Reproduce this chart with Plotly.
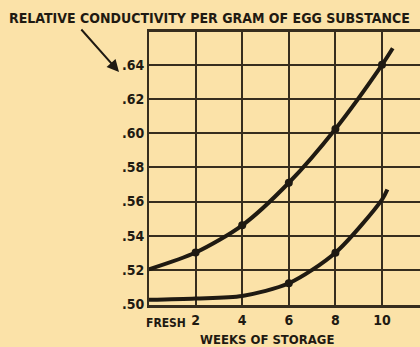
import plotly.graph_objects as go

# Conductivity curves vs. weeks of storage
upper_weeks = [0, 2, 4, 6, 8, 10, 10.46]
upper_cond = [0.5204, 0.5302, 0.5461, 0.571, 0.6025, 0.640, 0.6497]
lower_weeks = [0, 2, 4, 6, 8, 10, 10.23]
lower_cond = [0.5025, 0.5033, 0.5048, 0.5122, 0.5301, 0.5612, 0.5671]

# Plotted points (dots) on each curve
upper_dot_weeks = [2, 4, 6, 8, 10]
upper_dot_cond = [0.5302, 0.5461, 0.571, 0.6025, 0.640]
lower_dot_weeks = [6, 8]
lower_dot_cond = [0.5122, 0.5301]

x_ticks = [2, 4, 6, 8, 10]
x_ticktext = ["2", "4", "6", "8", "10"]
y_ticks = [0.50, 0.52, 0.54, 0.56, 0.58, 0.60, 0.62, 0.64]
y_ticktext = [".50", ".52", ".54", ".56", ".58", ".60", ".62", ".64"]

BG = "#fbe2a8"
GRID = "#362d1e"
INK = "#1f1a12"
FONT = "DejaVu Sans Condensed, Liberation Sans Narrow, sans-serif"

fig = go.Figure()
for xs, ys in [(upper_weeks, upper_cond), (lower_weeks, lower_cond)]:
    fig.add_trace(go.Scatter(x=xs, y=ys, mode="lines",
                             line=dict(color=INK, width=4, shape="spline", smoothing=0.8),
                             hoverinfo="skip"))
for xs, ys in [(upper_dot_weeks, upper_dot_cond), (lower_dot_weeks, lower_dot_cond)]:
    fig.add_trace(go.Scatter(x=xs, y=ys, mode="markers",
                             marker=dict(color=INK, size=8), hoverinfo="skip"))

tick_font = dict(family=FONT, size=14, color=INK, weight="bold")

fig.update_layout(
    width=420, height=347,
    margin=dict(l=149, r=0, t=32, b=42),
    paper_bgcolor=BG, plot_bgcolor=BG,
    showlegend=False,
    font=dict(family=FONT, color=INK, size=14),
    xaxis=dict(range=[0, 11.63], tickvals=x_ticks, ticktext=x_ticktext,
               showgrid=True, gridcolor=GRID, gridwidth=2,
               showline=True, linecolor=GRID, linewidth=3, mirror=True,
               ticks="", zeroline=False, tickfont=tick_font),
    yaxis=dict(range=[0.4995, 0.6592], tickvals=y_ticks, ticktext=y_ticktext,
               showgrid=True, gridcolor=GRID, gridwidth=2,
               showline=True, linecolor=GRID, linewidth=2,
               ticks="", zeroline=False, tickfont=tick_font),
)

fig.add_annotation(text="RELATIVE CONDUCTIVITY PER GRAM OF EGG SUBSTANCE",
                   xref="paper", yref="paper", x=(209 - 149) / 271, y=(305 - 18) / 273,
                   xanchor="center", yanchor="middle", showarrow=False,
                   font=dict(family=FONT, size=14, color=INK, weight="bold"))
fig.add_annotation(text="", xref="paper", yref="paper",
                   x=(119 - 149) / 271, y=(305 - 72) / 273,
                   ax=-39, ay=-44, showarrow=True,
                   arrowhead=2, arrowsize=1.2, arrowwidth=2, arrowcolor=INK)
fig.add_annotation(text="FRESH", xref="x", yref="paper", x=0, y=(305 - 323) / 273,
                   xanchor="left", yanchor="middle", xshift=-5, showarrow=False,
                   font=dict(family=FONT, size=12, color=INK, weight="bold"))
fig.add_annotation(text="WEEKS OF STORAGE", xref="paper", yref="paper",
                   x=(267 - 149) / 271, y=(305 - 339) / 273,
                   xanchor="center", yanchor="middle", showarrow=False,
                   font=dict(family=FONT, size=13, color=INK, weight="bold"))

fig.write_html("out.html")
